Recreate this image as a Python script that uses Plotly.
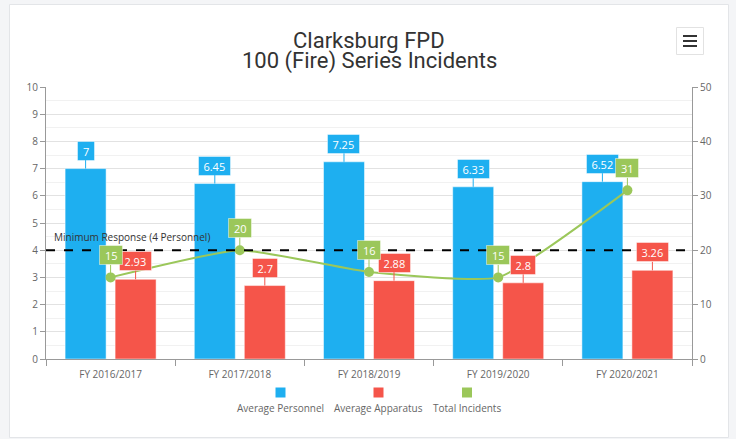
import plotly.graph_objects as go

categories = ["FY 2016/2017", "FY 2017/2018", "FY 2018/2019", "FY 2019/2020", "FY 2020/2021"]
avg_personnel = [7, 6.45, 7.25, 6.33, 6.52]
avg_apparatus = [2.93, 2.7, 2.88, 2.8, 3.26]
total_incidents = [15, 20, 16, 15, 31]
series_names = ["Average Personnel", "Average Apparatus", "Total Incidents"]
colors = ["#1EAFF0", "#F5554A", "#9BC75A"]
min_response = 4
min_response_label = "Minimum Response (4 Personnel)"
title_lines = ["Clarksburg FPD", "100 (Fire) Series Incidents"]

W, H = 736, 439
ML, MR, MT, MB = 46, 44, 87, 80
PW, PH = W - ML - MR, H - MT - MB


def px(x):
    return (x - ML) / PW


def py(y):
    return (H - MB - y) / PH


BARGAP, GROUPGAP = 0.226, 0.18
cat_w = PW / len(categories)
slot = cat_w * (1 - BARGAP) / 2
off = slot / 2

fig = go.Figure()
fig.add_trace(go.Bar(x=categories, y=avg_personnel, name=series_names[0],
                     marker=dict(color=colors[0], line=dict(color="rgba(255,255,255,0.5)", width=1)),
                     hoverinfo="y"))
fig.add_trace(go.Bar(x=categories, y=avg_apparatus, name=series_names[1],
                     marker=dict(color=colors[1], line=dict(color="rgba(255,255,255,0.5)", width=1)),
                     hoverinfo="y"))
fig.add_trace(go.Scatter(x=categories, y=total_incidents, name=series_names[2], yaxis="y2",
                         mode="lines+markers",
                         line=dict(color=colors[2], width=2, shape="spline", smoothing=0.45),
                         marker=dict(size=10, color=colors[2])))

ann = []
shapes = []


def label(x, y, text, color, xshift, ay, yref="y"):
    nd = sum(ch.isdigit() for ch in text)
    ndot = text.count(".")
    w = 6.2 * nd + 2 * ndot + 4
    ann.append(dict(x=x, y=y, xref="x", yref=yref, text=text, showarrow=True, arrowhead=0,
                    arrowwidth=1, arrowcolor=color, ax=0, ay=ay, xshift=xshift,
                    width=w, height=12, align="center", valign="middle",
                    bgcolor=color, bordercolor="rgba(255,255,255,0.45)", borderwidth=1, borderpad=3,
                    font=dict(family="Open Sans", size=11, color="white")))


for c, v in zip(categories, avg_personnel):
    label(c, v, str(v), colors[0], -off, -18)
for c, v in zip(categories, avg_apparatus):
    label(c, v, str(v), colors[1], off, -18)
for c, v in zip(categories, total_incidents):
    label(c, v, str(v), colors[2], 0, -22, yref="y2")

# min response line
shapes.append(dict(type="line", xref="paper", x0=0, x1=1, yref="y", y0=min_response, y1=min_response,
                   line=dict(color="black", width=2, dash="dash"), layer="above"))
ann.append(dict(xref="paper", x=px(52), yref="y", y=min_response, yshift=4, text=min_response_label,
                showarrow=False, xanchor="left", yanchor="bottom",
                font=dict(family="Open Sans", size=10, color="#333")))

# title
for t, cy in zip(title_lines, (41, 61)):
    ann.append(dict(xref="paper", yref="paper", x=px(369), y=py(cy), text=t, showarrow=False,
                    xanchor="center", yanchor="middle",
                    font=dict(family="Roboto", size=22, color="#333")))

# card background
shapes.append(dict(type="rect", xref="paper", yref="paper", x0=px(9.5), x1=px(728.5), y0=py(437.5), y1=py(4.5),
                   fillcolor="white", line=dict(color="#e3e5e8", width=1), layer="below"))
# menu button
shapes.append(dict(type="rect", xref="paper", yref="paper", x0=px(676.5), x1=px(703.5), y0=py(54.5), y1=py(27.5),
                   fillcolor="white", line=dict(color="#e2e2e2", width=1), layer="above"))
for yy in (36, 41, 46):
    shapes.append(dict(type="line", xref="paper", yref="paper", x0=px(683), x1=px(697), y0=py(yy), y1=py(yy),
                       line=dict(color="#333", width=2), layer="above"))

# custom legend
leg_x = [280.5, 378.5, 467]
for name, col, lx in zip(series_names, colors, leg_x):
    shapes.append(dict(type="rect", xref="paper", yref="paper", x0=px(lx - 5), x1=px(lx + 5),
                       y0=py(397.5), y1=py(387.5), fillcolor=col, line=dict(width=0)))
    ann.append(dict(xref="paper", yref="paper", x=px(lx), y=py(408), text=name, showarrow=False,
                    xanchor="center", yanchor="middle",
                    font=dict(family="Open Sans", size=10, color="#666")))

axis_font = dict(family="Open Sans", size=10, color="#666")
fig.update_layout(
    width=W, height=H,
    margin=dict(l=ML, r=MR, t=MT, b=MB, pad=0),
    paper_bgcolor="#f4f5f7", plot_bgcolor="rgba(0,0,0,0)",
    barmode="group", bargap=BARGAP, bargroupgap=GROUPGAP,
    showlegend=False,
    xaxis=dict(type="category", showgrid=False, showline=True, linecolor="#999", linewidth=1,
               ticks="outside", ticklen=6, tickcolor="#999", tickson="boundaries",
               ticklabelstandoff=6, tickfont=axis_font, fixedrange=True),
    yaxis=dict(range=[0, 10], dtick=1, showgrid=True, gridcolor="#e2e2e2", gridwidth=1,
               minor=dict(dtick=0.5, showgrid=True, gridcolor="#f1f1f1"),
               showline=True, linecolor="#999", linewidth=1, ticks="outside", ticklen=5,
               tickcolor="#999", tickfont=axis_font, zeroline=False, fixedrange=True),
    yaxis2=dict(range=[0, 50], dtick=10, overlaying="y", side="right", showgrid=False,
                showline=True, linecolor="#999", linewidth=1, ticks="outside", ticklen=5,
                tickcolor="#999", tickfont=axis_font, zeroline=False, fixedrange=True),
    annotations=ann, shapes=shapes,
)

fig.write_html("out.html", config={"displayModeBar": False},
               post_script="document.body.style.margin='0';document.body.style.overflow='hidden';")
